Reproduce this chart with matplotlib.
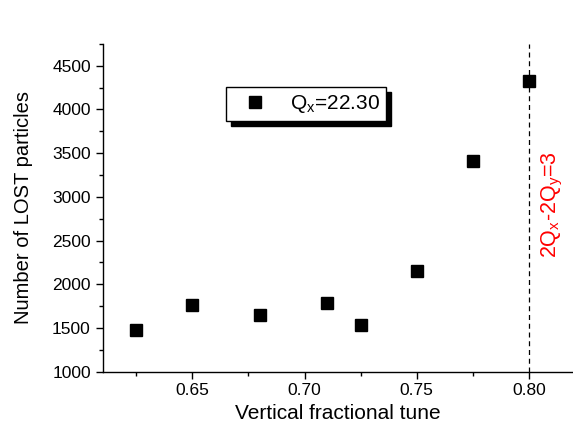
import matplotlib
matplotlib.use("Agg")
import matplotlib.pyplot as plt
from matplotlib.ticker import MultipleLocator, FormatStrFormatter

plt.rcParams['font.family'] = ['Liberation Sans', 'DejaVu Sans']

tune = [0.625, 0.65, 0.68, 0.71, 0.725, 0.75, 0.775, 0.80]
lost = [1475, 1767, 1650, 1790, 1530, 2150, 3414, 4323]
resonance = 0.80

fig = plt.figure(figsize=(5.73, 4.33), dpi=100)
ax = fig.add_axes([0.179, 0.1416, 0.8225, 0.757])

ax.plot(tune, lost, linestyle='none', marker='s', color='black', markersize=8.5,
        label=r'Q$_\mathregular{x}$=22.30')
ax.axvline(resonance, color='black', linestyle=(0, (4, 3)), linewidth=0.9)

ax.set_xlim(0.61, 0.82)
ax.set_ylim(1000, 4750)
ax.xaxis.set_major_locator(MultipleLocator(0.05))
ax.xaxis.set_minor_locator(MultipleLocator(0.025))
ax.yaxis.set_major_locator(MultipleLocator(500))
ax.yaxis.set_minor_locator(MultipleLocator(250))
ax.xaxis.set_major_formatter(FormatStrFormatter('%.2f'))

for s in ['top', 'right']:
    ax.spines[s].set_visible(False)
for s in ['left', 'bottom']:
    ax.spines[s].set_linewidth(1.0)

ax.tick_params(which='major', direction='out', length=5, width=1, labelsize=12.5)
ax.tick_params(which='minor', direction='out', length=3, width=1)

ax.set_xlabel('Vertical fractional tune', fontsize=15, labelpad=4)
ax.set_ylabel('Number of LOST particles', fontsize=14.5, labelpad=14)

ax.text(0.8105, 2907, r'2Q$_\mathregular{x}$-2Q$_\mathregular{y}$=3', color='red',
        rotation=90, fontsize=15.5, ha='center', va='center')

leg = ax.legend(loc='upper left', bbox_to_anchor=(0.262, 0.868), borderaxespad=0,
                fancybox=False, edgecolor='black', framealpha=1, fontsize=15,
                shadow={'color': 'black', 'alpha': 1, 'ox': 3.5, 'oy': -3.5},
                handlelength=2.2, handletextpad=0.6, borderpad=0.28,
                markerscale=1.0)
leg.get_frame().set_linewidth(1.0)

fig.savefig('out.png', dpi=100)
